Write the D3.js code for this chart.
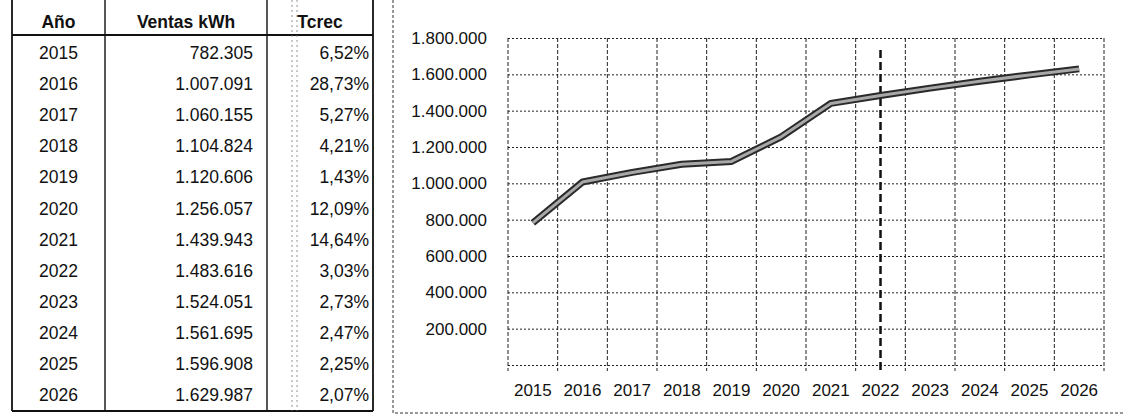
<!DOCTYPE html>
<html>
<head>
<meta charset="utf-8">
<title>Ventas kWh</title>
<style>
  body { margin: 0; background: #fff; }
  svg text { font-family: "Liberation Sans", Arial, sans-serif; fill: #111; }
  .hdr { font-weight: bold; }
  .grid line { stroke: #222; stroke-width: 1; }
  .grid path { display: none; }
  .yaxis path, .yaxis line, .xaxis path, .xaxis line { display: none; }
</style>
</head>
<body>
<div id="chart"></div>
<script src="https://d3js.org/d3.v7.min.js"></script>
<script>
  var years  = ["2015","2016","2017","2018","2019","2020","2021","2022","2023","2024","2025","2026"];
  var ventas = [782305, 1007091, 1060155, 1104824, 1120606, 1256057, 1439943, 1483616, 1524051, 1561695, 1596908, 1629987];
  var tcrec  = [6.52, 28.73, 5.27, 4.21, 1.43, 12.09, 14.64, 3.03, 2.73, 2.47, 2.25, 2.07];
  var yTicks = [200000, 400000, 600000, 800000, 1000000, 1200000, 1400000, 1600000, 1800000];
  var headers = ["Año", "Ventas kWh", "Tcrec"];
  var projStart = "2022";

  var W = 1126, H = 417;
  var es = d3.formatLocale({decimal: ",", thousands: ".", grouping: [3], currency: ["", ""]});
  var fmtInt = es.format(",d"),
      fmtPct = function(v) { return es.format(".2f")(v) + "%"; };

  var svg = d3.select("#chart").append("svg")
      .attr("width", W).attr("height", H);

  // ---------- table ----------
  var cols = [12, 105, 267, 373];
  var tbl = svg.append("g");
  var rowY = d3.scalePoint().domain(years).range([53, 395]);

  cols.forEach(function(cx, i) {
    tbl.append("line").attr("x1", cx).attr("x2", cx).attr("y1", 0).attr("y2", 411)
      .attr("stroke", "#111").attr("stroke-width", i == 0 || i == 3 ? 1.8 : 1.4);
  });
  tbl.append("line").attr("x1", cols[0]).attr("x2", cols[3]).attr("y1", 35).attr("y2", 35)
    .attr("stroke", "#111").attr("stroke-width", 2);
  tbl.append("line").attr("x1", cols[0]).attr("x2", cols[3]).attr("y1", 411).attr("y2", 411)
    .attr("stroke", "#111").attr("stroke-width", 2);
  // faint scan mark in Tcrec column
  [292, 297].forEach(function(sx) {
    tbl.append("line").attr("x1", sx).attr("x2", sx).attr("y1", 0).attr("y2", 411)
      .attr("stroke", "#777").attr("stroke-width", 0.8).attr("stroke-dasharray", "2,3");
  });

  tbl.selectAll(".hdr").data(headers).enter().append("text")
    .attr("class", "hdr")
    .attr("x", function(d, i) { return (cols[i] + cols[i + 1]) / 2; })
    .attr("y", 22).attr("dy", "0.35em")
    .attr("text-anchor", "middle")
    .style("font-size", "17.5px")
    .text(function(d) { return d; });

  var rows = tbl.selectAll(".row").data(years).enter().append("g")
    .attr("transform", function(d) { return "translate(0," + rowY(d) + ")"; });
  rows.append("text").attr("x", (cols[0] + cols[1]) / 2).attr("dy", "0.35em")
    .attr("text-anchor", "middle").style("font-size", "17.5px")
    .text(function(d) { return d; });
  rows.append("text").attr("x", 253).attr("dy", "0.35em")
    .attr("text-anchor", "end").style("font-size", "17.5px")
    .text(function(d, i) { return fmtInt(ventas[i]); });
  rows.append("text").attr("x", 369).attr("dy", "0.35em")
    .attr("text-anchor", "end").style("font-size", "17.5px")
    .text(function(d, i) { return fmtPct(tcrec[i]); });

  // ---------- chart ----------
  var plot = {left: 508, right: 1104, top: 38, bottom: 365};
  var x = d3.scaleBand().domain(years).range([plot.left, plot.right]);
  var y = d3.scaleLinear().domain([0, 1800000]).range([plot.bottom, plot.top]);

  // outer chart frame (left + bottom visible)
  svg.append("path")
    .attr("d", "M393,0 V413 H1124")
    .attr("fill", "none").attr("stroke", "#333").attr("stroke-width", 1)
    .attr("stroke-dasharray", "3,2");

  // horizontal gridlines
  svg.append("g").attr("class", "grid")
    .attr("transform", "translate(" + plot.left + ",0)")
    .call(d3.axisLeft(y).tickValues([0].concat(yTicks)).tickSize(-(plot.right - plot.left)).tickFormat(""))
    .selectAll("line").attr("stroke-dasharray", "2,2");

  // vertical gridlines at category boundaries
  var bounds = years.map(function(d) { return x(d); }).concat([plot.right]);
  svg.append("g").attr("class", "grid").selectAll("line").data(bounds).enter().append("line")
    .attr("x1", function(d) { return d; }).attr("x2", function(d) { return d; })
    .attr("y1", plot.top).attr("y2", plot.bottom + 6)
    .attr("stroke-dasharray", "4,2");

  // y labels
  svg.append("g").attr("class", "yaxis")
    .attr("transform", "translate(" + (plot.left - 18) + ",0)")
    .call(d3.axisLeft(y).tickValues(yTicks).tickSize(0).tickFormat(fmtInt))
    .selectAll("text").style("font-size", "17px").attr("fill", "#111");

  // x labels
  svg.append("g").attr("class", "xaxis")
    .attr("transform", "translate(0," + (plot.bottom + 16) + ")")
    .call(d3.axisBottom(x).tickSize(0))
    .selectAll("text").style("font-size", "17px").attr("fill", "#111");

  // projection marker
  svg.append("line")
    .attr("x1", x(projStart) + x.bandwidth() / 2).attr("x2", x(projStart) + x.bandwidth() / 2)
    .attr("y1", 50).attr("y2", 372)
    .attr("stroke", "#111").attr("stroke-width", 2.5).attr("stroke-dasharray", "8,4");

  // sales line (double stroke like the scanned 3D line)
  var line = d3.line()
    .x(function(d, i) { return x(years[i]) + x.bandwidth() / 2; })
    .y(function(d) { return y(d); });
  svg.append("path").datum(ventas).attr("d", line)
    .attr("fill", "none").attr("stroke", "#2a2a2a").attr("stroke-width", 7)
    .attr("stroke-linejoin", "round");
  svg.append("path").datum(ventas).attr("d", line)
    .attr("fill", "none").attr("stroke", "#a8a8a8").attr("stroke-width", 3)
    .attr("stroke-linejoin", "round");
</script>
</body>
</html>
